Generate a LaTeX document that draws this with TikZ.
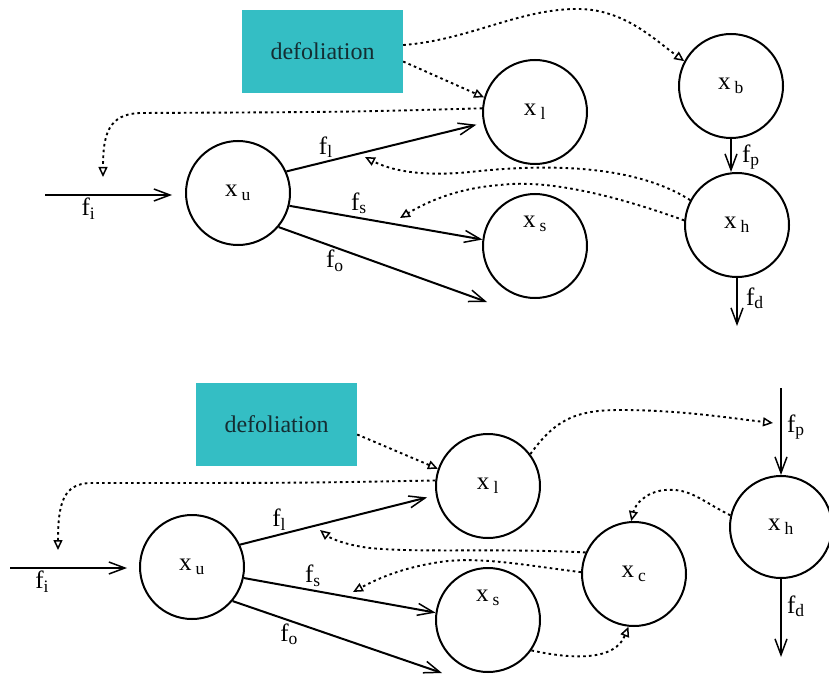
\documentclass[tikz,border=0pt]{standalone}
\usepackage{fontspec}
\setmainfont{Liberation Serif}
\usetikzlibrary{arrows.meta}
\definecolor{teal1}{RGB}{52,190,196}
\definecolor{boxtext}{RGB}{20,45,50}
\begin{document}
\begin{tikzpicture}[x=1pt,y=-1pt,
  state/.style={draw, circle, minimum size=104pt, inner sep=0pt, line width=2pt, font=\fontsize{25}{28}\selectfont},
  defbox/.style={fill=teal1, minimum width=161pt, minimum height=83pt, inner sep=0pt, text=boxtext, font=\fontsize{24}{28}\selectfont},
  flow/.style={line width=2pt, -{Straight Barb[length=16pt,width=12pt,line width=1.5pt]}},
  ctrl/.style={line width=1.9pt, dash pattern=on 2.6pt off 3.2pt, -{Triangle[open,length=10pt,width=9pt,line width=1.5pt]}},
  flab/.style={font=\fontsize{25}{28}\selectfont, inner sep=2pt}
]
\useasboundingbox (0,0) rectangle (829,679);

\newcommand{\xs}[1]{x\,\textsubscript{#1}}
\newcommand{\fs}[1]{f\textsubscript{#1}}

% ---------------- top diagram ----------------
\node[defbox] (box1) at (322.5,51.5) {defoliation};
\node[state] (xu1) at (238,193) {\xs{u}};
\node[state] (xl1) at (535,112) {\xs{l}};
\node[state] (xb) at (731,86) {\xs{b}};
\node[state] (xh1) at (737,225) {\xs{h}};
\node[state, label={[name=xs1lab, yshift=22pt, font=\fontsize{25}{28}\selectfont]center:\xs{s}}] (xs1) at (535,246) {};

\coordinate (fi1s) at (45,195);
\coordinate (fo1e) at (487,302);
\coordinate (fd1e) at (737,326);
\coordinate (d3tip) at (103,177);
\coordinate (d4tip) at (365,157);
\coordinate (d5tip) at (400,218);

\draw[flow, shorten >=13pt] (fi1s) -- node[flab, pos=0.31, below] {\fs{i}} (xu1.west |- fi1s);
\draw[flow, shorten >=7pt] (xu1.24) -- node[flab, pos=0.2, above, yshift=1pt] {\fs{l}} (xl1.192);
\draw[flow] (xu1.-14) -- node[flab, pos=0.36, above, yshift=1pt] {\fs{s}} (xs1.173);
\draw[flow] (xu1.-40) -- node[flab, pos=0.27, below] {\fs{o}} (fo1e);
\draw[flow] (xb.south) -- node[flab, right, pos=0.55, xshift=8pt] {\fs{p}} (xb.south |- xh1.north);
\draw[flow] (xh1.south) -- node[flab, right, pos=0.42, xshift=6pt] {\fs{d}} (fd1e);

\draw[ctrl] ([yshift=6.5pt]box1.east) .. controls (470,40) and (520,8) .. (580,9)
  .. controls (625,10) and (655,40) .. (xb.152);
\draw[ctrl] ([yshift=-10pt]box1.east) -- (xl1.164);
\draw[ctrl] (xl1.176) .. controls (350,112) .. (140,113)
  .. controls (108,114) and (103,135) .. (d3tip);
\draw[ctrl] (xh1.152) .. controls (640,168) and (560,162) .. (470,172)
  .. controls (420,177) and (390,170) .. (d4tip);
\draw[ctrl] (xh1.175) .. controls (600,190) and (540,180) .. (500,185)
  .. controls (460,188) and (430,200) .. (d5tip);

% ---------------- bottom diagram ----------------
\node[defbox] (box2) at (276.5,424.5) {defoliation};
\node[state] (xu2) at (192,567) {\xs{u}};
\node[state] (xl2) at (488,486) {\xs{l}};
\node[state, label={[name=xs2lab, yshift=22pt, font=\fontsize{25}{28}\selectfont]center:\xs{s}}] (xs2) at (488,620) {};
\node[state] (xc) at (634,574) {\xs{c}};
\node[state, minimum size=102pt] (xh2) at (781,527) {\xs{h}};

\coordinate (fi2s) at (10,568);
\coordinate (fo2e) at (442,673);
\coordinate (fp2s) at (781,388);
\coordinate (fd2e) at (781,657);
\coordinate (e1tip) at (773,423);
\coordinate (e3tip) at (58,550);
\coordinate (e4tip) at (320,530);
\coordinate (e5tip) at (353,592);

\draw[flow, shorten >=12pt] (fi2s) -- node[flab, pos=0.25, below] {\fs{i}} (xu2.west |- fi2s);
\draw[flow, shorten >=9pt] (xu2.25) -- node[flab, pos=0.2, above, yshift=1pt] {\fs{l}} (xl2.190);
\draw[flow] (xu2.-12) -- node[flab, pos=0.36, above, yshift=1pt] {\fs{s}} (xs2.172);
\draw[flow] (xu2.-40) -- node[flab, pos=0.27, below] {\fs{o}} (fo2e);
\draw[flow] (fp2s) -- node[flab, right, pos=0.45, xshift=3pt] {\fs{p}} (xh2.north);
\draw[flow] (xh2.south) -- node[flab, right, pos=0.35, xshift=3pt] {\fs{d}} (fd2e);

\draw[ctrl] (xl2.37) .. controls (555,420) and (575,410) .. (620,410)
  .. controls (680,410) and (730,418) .. (e1tip);
\draw[ctrl] ([yshift=-10pt]box2.east) -- (xl2.161);
\draw[ctrl] (xl2.174) .. controls (300,483) .. (90,483)
  .. controls (65,484) and (58,500) .. (e3tip);
\draw[ctrl] (xc.156) .. controls (500,548) and (420,553) .. (370,548)
  .. controls (345,545) and (330,538) .. (e4tip);
\draw[ctrl] (xc.178) .. controls (530,566) and (480,556) .. (440,562)
  .. controls (400,568) and (375,580) .. (e5tip);
\draw[ctrl] (xh2.167) .. controls (700,500) and (690,488) .. (665,490)
  .. controls (645,492) and (635,505) .. (xc.93);
\draw[ctrl] (xs2.-35) .. controls (575,660) and (615,660) .. (xc.-96);
\end{tikzpicture}
\end{document}
